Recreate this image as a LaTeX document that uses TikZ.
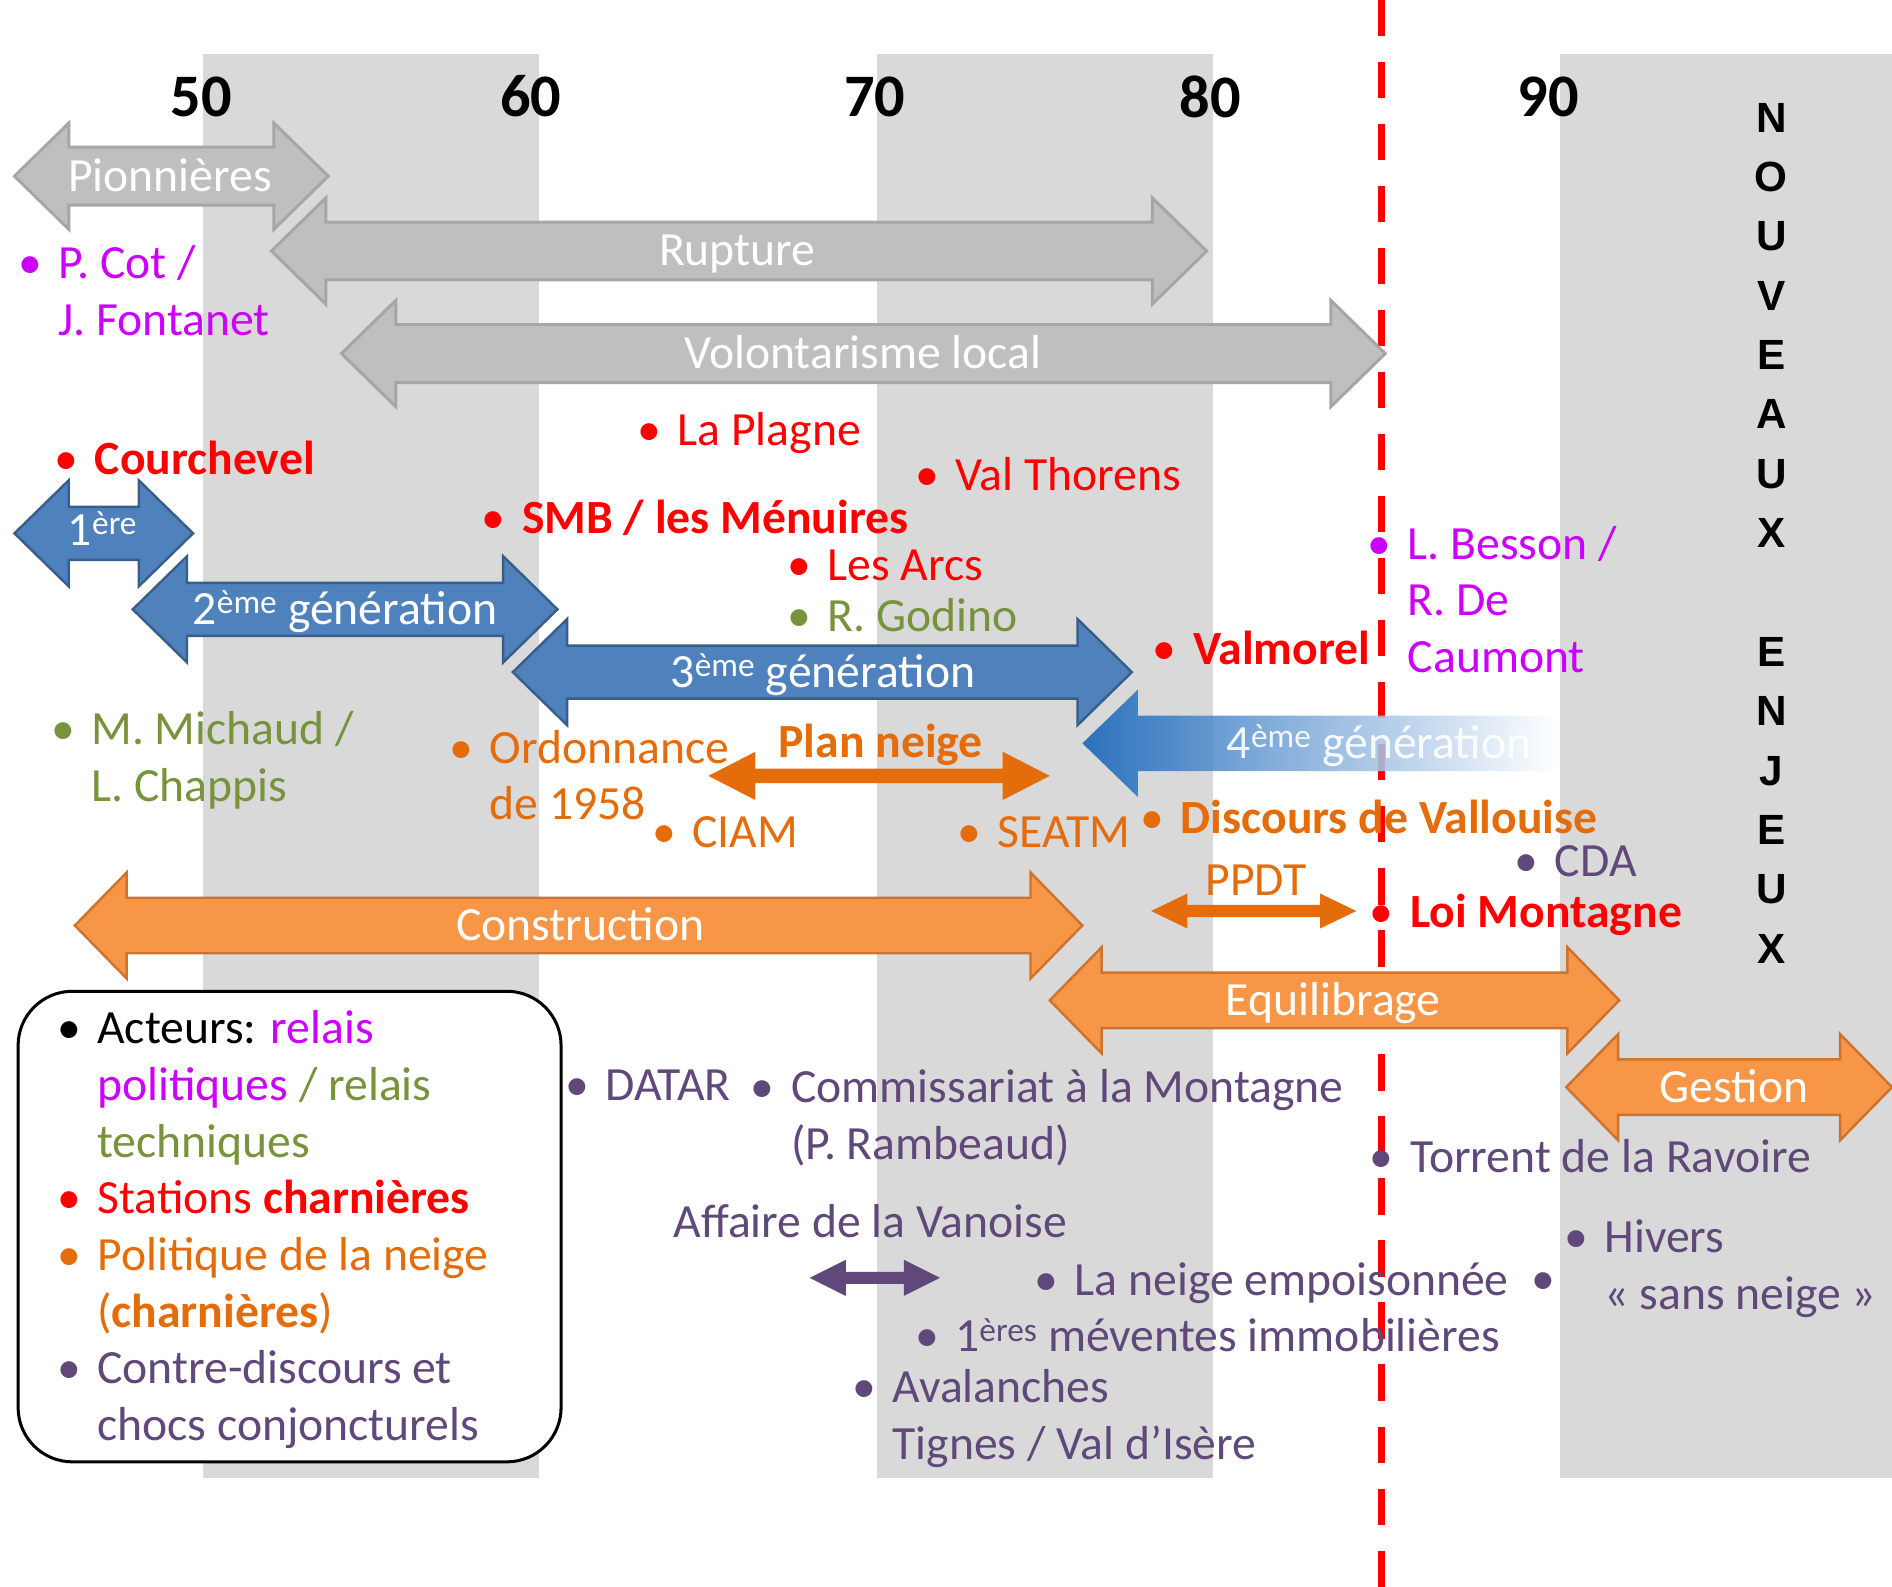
\documentclass[tikz,border=0pt]{standalone}
\usepackage{fontspec}
\setmainfont{Carlito}
\newfontfamily\capsfont{Liberation Sans}
\definecolor{band}{RGB}{217,217,217}
\definecolor{arrgray}{RGB}{191,191,191}
\definecolor{arrgrayd}{RGB}{166,166,166}
\definecolor{arrblue}{RGB}{79,129,189}
\definecolor{arrblued}{RGB}{56,93,138}
\definecolor{arrblueh}{RGB}{20,100,185}
\definecolor{arrorange}{RGB}{247,150,70}
\definecolor{arrorangedk}{RGB}{205,115,45}
\definecolor{pol}{RGB}{204,0,255}
\definecolor{sta}{RGB}{255,0,0}
\definecolor{tec}{RGB}{119,147,60}
\definecolor{nge}{RGB}{228,108,10}
\definecolor{cho}{RGB}{96,73,122}
\newcommand{\bul}{\strut\makebox[23.5pt][l]{\makebox[0pt]{•}}}
\newcommand{\ind}{\strut\hspace*{23.5pt}}
% block arrow: style, left tip x, right tip x, y, head length, head half width, shaft half width
\newcommand{\dblarr}[7]{%
  \path[#1] (#2,#4) -- ({#2+#5},{#4-#6}) -- ({#2+#5},{#4-#7}) -- ({#3-#5},{#4-#7})
    -- ({#3-#5},{#4-#6}) -- (#3,#4) -- ({#3-#5},{#4+#6}) -- ({#3-#5},{#4+#7})
    -- ({#2+#5},{#4+#7}) -- ({#2+#5},{#4+#6}) -- cycle;}
\tikzset{lbl/.style={anchor=west,inner sep=0pt,align=left,yshift=-3pt,font=\fontsize{39.5}{47}\selectfont},
  intxt/.style={inner sep=0pt,text=white,yshift=-3pt,font=\fontsize{39.5}{47}\selectfont},
  yr/.style={inner sep=0pt,font=\fontsize{50}{60}\selectfont\bfseries},
  enjeux/.style={inner sep=0pt,align=center,font=\capsfont\bfseries\fontsize{35}{49.2}\selectfont},
  grayarr/.style={fill=arrgray,draw=arrgrayd,line width=2.5pt},
  bluearr/.style={fill=arrblue,draw=arrblued,line width=2pt},
  orarr/.style={fill=arrorange,draw=arrorangedk,line width=2pt},
  cutline/.style={sta,line width=5.5pt,dash pattern=on 30pt off 21.4pt},
  legendbox/.style={draw=black,line width=2.5pt,fill=white,rounded corners=45pt,
    minimum width=450pt,minimum height=390pt,inner sep=0pt}}

\begin{document}
\begin{tikzpicture}[x=1pt,y=-1pt]
\useasboundingbox (0,0) rectangle (1568,1315);
% decades
\fill[band] (168,45) rectangle (447,1225);
\fill[band] (727,45) rectangle (1005,1225);
\fill[band] (1293,45) rectangle (1568,1225);
\node[yr] (y50) at (167,80) {50};
\node[yr] (y60) at (440,80) {60};
\node[yr] (y70) at (725,80) {70};
\node[yr] (y80) at (1003,80) {80};
\node[yr] (y90) at (1283,80) {90};
% rupture 1985
\coordinate (cuttop) at (1145,0);
\coordinate (cutbot) at (1145,1315);
\draw[cutline] (cuttop) -- (cutbot);

% periods
\dblarr{grayarr}{12}{272}{146}{45}{44}{24}
\dblarr{grayarr}{225}{1000}{208}{45}{44}{24}
\dblarr{grayarr}{283}{1148}{293}{45}{44}{24}
\node[intxt] (pion) at (141,146) {\strut Pionnières};
\node[intxt] (rupt) at (611,208) {\strut Rupture};
\node[intxt] (volo) at (715,293) {\strut Volontarisme local};

% generations
\dblarr{bluearr}{12}{160}{442}{45}{44}{22}
\dblarr{bluearr}{110}{462}{505}{45}{44}{22}
\dblarr{bluearr}{425}{938}{557}{45}{44}{22}
\shade[left color=arrblueh,right color=white,fill opacity=0.88]
  (897,616) -- (943,571.5) -- (943,593) -- (1292,593) -- (1292,639)
  -- (943,639) -- (943,660.5) -- cycle;
\node[intxt] (gen1) at (85,440) {\strut 1\textsuperscript{ère}};
\node[intxt] (gen2) at (286,505) {\strut 2\textsuperscript{ème} génération};
\node[intxt] (gen3) at (682,557) {\strut 3\textsuperscript{ème} génération};
\node[intxt,opacity=0.9] (gen4) at (1143,616) {\strut 4\textsuperscript{ème} génération};

% phases
\dblarr{orarr}{62}{897}{767}{43}{44}{23}
\dblarr{orarr}{870}{1342}{829}{43}{44}{23}
\dblarr{orarr}{1298}{1568}{901}{43}{44}{23}
\node[intxt] (constr) at (481,767) {\strut Construction};
\node[intxt] (equil) at (1105,829) {\strut Equilibrage};
\node[intxt] (gest) at (1437,901) {\strut Gestion};
\dblarr{fill=nge}{587}{870}{643}{39}{20}{6}
\dblarr{fill=nge}{954}{1124}{755}{30}{14.5}{5}
\dblarr{fill=cho}{671}{779}{1059}{30}{15}{5}

% relais politiques / techniques
\node[lbl,text=pol] (cot) at (25,242) {\bul P. Cot /\\\ind J. Fontanet};
\node[lbl,text=pol] (besson) at (1143,498) {\bul L. Besson /\\\ind R. De\\\ind Caumont};
\node[lbl,text=tec] (godino) at (662,511) {\bul R. Godino};
\node[lbl,text=tec] (michaud) at (52,628.5) {\bul M. Michaud /\\\ind L. Chappis};

% stations
\node[lbl,text=sta] (courch) at (55,381) {\bul\textbf{Courchevel}};
\node[lbl,text=sta] (plagne) at (538,357) {\bul La Plagne};
\node[lbl,text=sta] (thorens) at (768,394) {\bul Val Thorens};
\node[lbl,text=sta] (smb) at (409,430) {\bul\textbf{SMB / les Ménuires}};
\node[lbl,text=sta] (arcs) at (662,469) {\bul Les Arcs};
\node[lbl,text=sta] (valmorel) at (965,538) {\bul\textbf{Valmorel}};
\node[lbl,text=sta] (loi) at (1145,756) {\bul\textbf{Loi Montagne}};

% politique de la neige
\node[lbl,text=nge] (ordo) at (382,643.5) {\bul Ordonnance\\\ind de 1958};
\node[lbl,text=nge] (plan) at (645,615) {\strut\textbf{Plan neige}};
\node[lbl,text=nge] (ciam) at (550,690) {\bul CIAM};
\node[lbl,text=nge] (seatm) at (803,690) {\bul SEATM};
\node[lbl,text=nge] (vallouise) at (955,678) {\bul\textbf{Discours de Vallouise}};
\node[lbl,text=nge] (ppdt) at (999,730) {\strut PPDT};

% contre-discours
\node[lbl,text=cho] (cda) at (1265,714) {\bul CDA};
\node[lbl,text=cho] (datar) at (478,900) {\bul DATAR};
\node[lbl,text=cho] (commis) at (632,925) {\bul Commissariat à la Montagne\\\ind (P. Rambeaud)};
\node[lbl,text=cho] (torrent) at (1145,959) {\bul Torrent de la Ravoire};
\node[lbl,text=cho] (vanoise) at (558,1013) {\strut Affaire de la Vanoise};
\node[lbl,text=cho] (hivers) at (1306,1049) {\bul Hivers\\\ind « sans neige »};
\node[lbl,text=cho] (empois) at (867,1061) {\bul La neige empoisonnée};
\node[lbl,text=cho] (dot) at (1279,1060) {\bul};
\node[lbl,text=cho] (mevente) at (768,1108) {\bul 1\textsuperscript{ères} méventes immobilières};
\node[lbl,text=cho] (aval) at (716,1173.5) {\bul Avalanches\\\ind Tignes / Val d’Isère};

\node[enjeux] (enjeux) at (1468,444) {\strut N\\\strut O\\\strut U\\\strut V\\\strut E\\\strut A\\\strut U\\\strut X\\\strut\\\strut E\\\strut N\\\strut J\\\strut E\\\strut U\\\strut X};

% legend
\node[legendbox] (legend) at (240,1016.5) {};
\node[lbl] (legtxt) at (57,1017) {\bul Acteurs: \textcolor{pol}{relais}\\
  \ind\textcolor{pol}{politiques} \textcolor{tec}{/ relais}\\
  \ind\textcolor{tec}{techniques}\\
  \textcolor{sta}{\bul Stations \textbf{charnières}}\\
  \textcolor{nge}{\bul Politique de la neige}\\
  \textcolor{nge}{\ind(\textbf{charnières})}\\
  \textcolor{cho}{\bul Contre-discours et}\\
  \textcolor{cho}{\ind chocs conjoncturels}};
\end{tikzpicture}
\end{document}
